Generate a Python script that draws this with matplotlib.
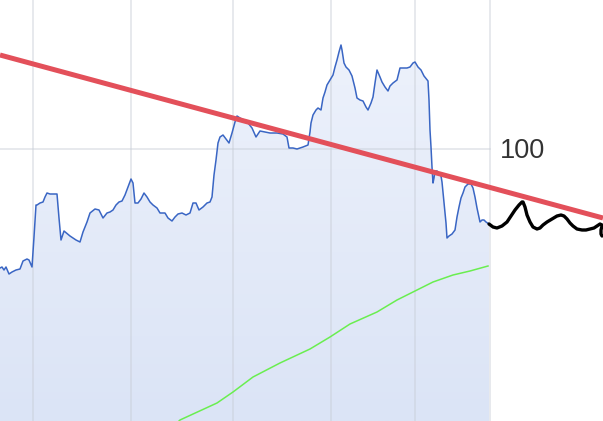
import numpy as np
import matplotlib
matplotlib.use("Agg")
import matplotlib.pyplot as plt
from matplotlib.colors import LinearSegmentedColormap
from matplotlib.patches import Polygon

# ---- data (x = trading-day position, y = price) ----
price_x = [0, 2, 4, 6, 9, 12, 16, 20, 23, 27, 29, 32, 34, 36, 37, 40, 43, 45, 47, 50,
           53, 57, 59, 61, 64, 70, 76, 80, 83, 87, 90, 95, 99, 103, 107, 110, 113, 116,
           119, 122, 125, 128, 131, 133, 135, 138, 141, 144, 147, 150, 153, 157, 160,
           165, 168, 172, 175, 178, 182, 186, 190, 193, 196, 199, 203, 207, 210, 212,
           214, 216, 218, 220, 223, 226, 229, 232, 235, 237, 240, 244, 248, 252, 256,
           260, 265, 270, 277, 283, 287, 289, 293, 297, 303, 308, 310, 311, 313, 316,
           318, 321, 323, 325, 327, 330, 333, 335, 337, 339, 341, 342, 344, 346, 349,
           352, 355, 357, 360, 363, 366, 368, 371, 373, 375, 377, 380, 382, 385, 388,
           390, 393, 397, 400, 403, 407, 410, 413, 415, 418, 421, 424, 428, 429, 430,
           431, 432, 433, 434, 435, 437, 439, 441, 442, 444, 446, 447, 449, 452, 455,
           457, 459, 461, 463, 465, 468, 471, 473, 475, 477, 479, 480, 482, 484, 486, 489]
price_y = [88.1, 88.2, 87.9, 88.2, 87.5, 87.7, 87.9, 88.0, 88.8, 89.0, 88.9, 88.2, 91.2,
           94.4, 94.4, 94.6, 94.7, 95.2, 95.6, 95.5, 95.5, 95.5, 93.1, 90.9, 91.8, 91.3,
           90.9, 90.7, 91.7, 92.7, 93.6, 94.0, 93.9, 93.1, 93.6, 93.7, 93.9, 94.4, 94.7,
           94.8, 95.4, 96.2, 97.0, 96.6, 94.6, 94.6, 95.0, 95.6, 95.2, 94.7, 94.4, 94.1,
           93.6, 93.6, 93.1, 92.8, 93.2, 93.5, 93.6, 93.4, 93.6, 94.6, 94.6, 93.9, 94.2,
           94.6, 94.7, 95.2, 97.4, 98.9, 100.6, 101.2, 101.4, 101.0, 100.6, 101.6, 102.7,
           103.3, 103.1, 102.9, 102.6, 102.1, 101.2, 101.8, 101.7, 101.6, 101.6, 101.5,
           101.2, 100.1, 100.1, 100.0, 100.2, 100.4, 101.7, 102.6, 103.4, 103.9, 104.1,
           103.9, 105.1, 105.7, 106.4, 106.9, 107.4, 108.2, 108.9, 109.7, 110.4, 109.9,
           108.6, 108.2, 107.9, 107.3, 106.1, 105.1, 104.9, 104.8, 104.2, 103.9, 104.6,
           105.2, 106.6, 107.9, 107.2, 106.7, 106.2, 105.8, 106.3, 106.6, 106.9, 108.1,
           108.1, 108.1, 108.2, 108.6, 108.7, 108.2, 107.9, 107.3, 106.8, 104.9, 101.9,
           100.2, 98.2, 96.6, 97.1, 97.8, 97.8, 97.6, 97.3, 96.7, 94.6, 92.6, 91.1, 91.3,
           91.5, 91.9, 93.2, 94.2, 95.1, 95.6, 96.2, 96.5, 96.5, 96.1, 95.2, 94.1, 93.2,
           92.7, 92.9, 92.9, 92.7, 92.5]

ma_x = [176, 180, 217, 233, 253, 280, 310, 330, 350, 377, 397, 417, 433, 453, 470, 488]
ma_y = [72.5, 72.9, 74.6, 75.7, 77.2, 78.6, 80.0, 81.2, 82.5, 83.7, 84.9, 85.9, 86.7,
        87.4, 87.8, 88.3]

trend_x = [0, 603]
trend_y = [109.4, 93.1]

sketch_x = [489, 493, 497, 502, 507, 511, 515, 519, 522, 523, 525, 527, 530, 533, 537,
            540, 543, 547, 552, 557, 561, 564, 567, 570, 573, 577, 582, 586, 590, 594,
            597, 600, 602]
sketch_y = [92.5, 92.2, 92.1, 92.3, 92.7, 93.3, 93.9, 94.4, 94.7, 94.7, 94.2, 93.4,
            92.7, 92.2, 92.0, 92.1, 92.4, 92.7, 93.0, 93.3, 93.4, 93.3, 93.0, 92.6,
            92.3, 92.0, 91.9, 91.9, 92.0, 92.1, 92.3, 92.5, 92.4]
hook_x = [602, 601, 601, 602]
hook_y = [92.3, 91.9, 91.5, 91.3]

grid_x = [33, 131, 233, 331, 415, 490]
grid_price = 100
label_text = "100"

# ---- drawing ----
fig = plt.figure(figsize=(6.03, 4.21), dpi=100)
ax = fig.add_axes([0, 0, 1, 1])
ax.set_xlim(0, 603)
ax.set_ylim(72.8, 114.9)
ax.axis("off")

# gradient fill under price
ybot = 72.8
poly_pts = [(price_x[0], ybot)] + list(zip(price_x, price_y)) + [(price_x[-1], ybot)]
poly = Polygon(poly_pts, closed=True, facecolor="none", edgecolor="none")
ax.add_patch(poly)
cmap = LinearSegmentedColormap.from_list("g", ["#dbe4f6", "#eff3fc"])
grad = np.linspace(0, 1, 256).reshape(-1, 1)
im = ax.imshow(grad, cmap=cmap, aspect="auto", origin="lower",
               extent=[0, price_x[-1], 72.8, 114.9], zorder=1)
im.set_clip_path(poly)

# gridlines
for gx in grid_x:
    ax.axvline(gx, color="#c8cdd6", lw=1.1, alpha=0.55, zorder=2)
ax.plot([0, 490], [grid_price, grid_price], color="#c8cdd6", lw=1.1, alpha=0.55, zorder=2)

ax.plot(price_x, price_y, color="#3a66c4", lw=1.1, zorder=3)
ax.plot(ma_x, ma_y, color="#6aee50", lw=1.1, zorder=3)
ax.plot(trend_x, trend_y, color="#e3505a", lw=3.6, zorder=4, solid_capstyle="butt")
ax.plot(sketch_x, sketch_y, color="black", lw=2.4, zorder=5,
        solid_capstyle="round", solid_joinstyle="round")
ax.plot(hook_x, hook_y, color="black", lw=2.4, zorder=5, solid_capstyle="round")

ax.text(500, 99.1, label_text, ha="left", va="baseline", fontsize=19.5,
        family="Liberation Sans", color="#333333", zorder=6)

fig.savefig("out.png", dpi=100)
